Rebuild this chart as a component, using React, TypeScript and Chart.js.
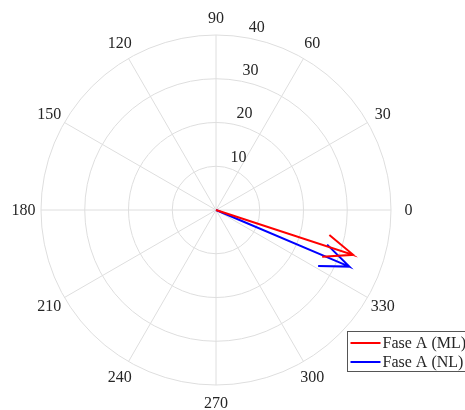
import React, { useEffect, useRef } from "react";
import { Chart, registerables } from "chart.js";

Chart.register(...registerables);

// ---- data ----
const seriesLabels = ["Fase A (ML)", "Fase A (NL)"];
const seriesColors = ["#ff0000", "#0000ff"];
const magnitudes = [33.0, 33.1];
const anglesDeg = [-18.1, -23.0];
const radialTicks = [10, 20, 30, 40];
const angleTicks = [0, 30, 60, 90, 120, 150, 180, 210, 240, 270, 300, 330];
const rMax = 40;

const FONT = '16px "Liberation Serif", "Times New Roman", serif';
const GRID = "#dedede";
const TEXT = "#262626";

// MATLAB compass arrow: 0, z, 0.8z+0.08iz, z, 0.8z-0.08iz
function arrowPoints(mag: number, deg: number) {
  const a = (deg * Math.PI) / 180;
  const zx = mag * Math.cos(a);
  const zy = mag * Math.sin(a);
  return [
    { x: 0, y: 0 },
    { x: zx, y: zy },
    { x: 0.8 * zx - 0.08 * zy, y: 0.8 * zy + 0.08 * zx },
    { x: zx, y: zy },
    { x: 0.8 * zx + 0.08 * zy, y: 0.8 * zy - 0.08 * zx },
  ];
}

const polarGrid = {
  id: "polarGrid",
  beforeDatasetsDraw(chart: any) {
    const { ctx, scales } = chart;
    const xs = scales.x;
    const ys = scales.y;
    const cx = xs.getPixelForValue(0);
    const cy = ys.getPixelForValue(0);
    const k = (xs.getPixelForValue(rMax) - cx) / rMax;
    ctx.save();
    ctx.strokeStyle = GRID;
    ctx.lineWidth = 1;
    // spokes
    for (const t of angleTicks) {
      if (t >= 180) continue;
      const a = (t * Math.PI) / 180;
      ctx.beginPath();
      ctx.moveTo(xs.getPixelForValue(-rMax * Math.cos(a)), ys.getPixelForValue(-rMax * Math.sin(a)));
      ctx.lineTo(xs.getPixelForValue(rMax * Math.cos(a)), ys.getPixelForValue(rMax * Math.sin(a)));
      ctx.stroke();
    }
    // rings
    for (const r of radialTicks) {
      ctx.beginPath();
      ctx.arc(cx, cy, r * k, 0, Math.PI * 2);
      ctx.stroke();
    }
    // angle labels
    ctx.fillStyle = TEXT;
    ctx.font = FONT;
    ctx.textAlign = "center";
    ctx.textBaseline = "middle";
    for (const t of angleTicks) {
      const a = (t * Math.PI) / 180;
      ctx.fillText(
        String(t),
        xs.getPixelForValue(1.1 * rMax * Math.cos(a)),
        ys.getPixelForValue(1.1 * rMax * Math.sin(a)) + 1
      );
    }
    // radial labels at 82 degrees
    const a82 = (82 * Math.PI) / 180;
    ctx.textAlign = "left";
    ctx.textBaseline = "bottom";
    for (const r of radialTicks) {
      const rr = r + 10 / 20;
      ctx.fillText(
        "  " + r,
        xs.getPixelForValue(rr * Math.cos(a82)),
        ys.getPixelForValue(rr * Math.sin(a82)) + 1
      );
    }
    ctx.restore();
  },
  afterDraw(chart: any) {
    const { ctx } = chart;
    const bx = 347.5;
    const by = 331.5;
    const bw = 140;
    const bh = 40;
    ctx.save();
    ctx.fillStyle = "#ffffff";
    ctx.fillRect(bx, by, bw, bh);
    ctx.strokeStyle = "#555555";
    ctx.lineWidth = 1;
    ctx.strokeRect(bx, by, bw, bh);
    ctx.font = FONT;
    ctx.textAlign = "left";
    ctx.textBaseline = "middle";
    chart.data.datasets.forEach((ds: any, i: number) => {
      const y = by + 11.5 + i * 19;
      ctx.strokeStyle = ds.borderColor;
      ctx.lineWidth = 2;
      ctx.beginPath();
      ctx.moveTo(bx + 3, y);
      ctx.lineTo(bx + 33, y);
      ctx.stroke();
      ctx.fillStyle = TEXT;
      ctx.fillText(ds.label, bx + 35, y + 1);
    });
    ctx.restore();
  },
};

export default function App() {
  const ref = useRef<HTMLCanvasElement | null>(null);
  useEffect(() => {
    if (!ref.current) return;
    const chart = new Chart(ref.current, {
      type: "scatter",
      data: {
        datasets: seriesLabels.map((label, i) => ({
          label,
          data: arrowPoints(magnitudes[i], anglesDeg[i]),
          showLine: true,
          borderColor: seriesColors[i],
          backgroundColor: seriesColors[i],
          borderWidth: 2,
          pointRadius: 0,
          pointHoverRadius: 0,
          fill: false,
          tension: 0,
        })),
      },
      options: {
        animation: false,
        responsive: false,
        devicePixelRatio: 1,
        layout: { padding: { left: 41, right: 74, top: 35, bottom: 25 } },
        scales: {
          x: { type: "linear", min: -rMax, max: rMax, display: false },
          y: { type: "linear", min: -rMax, max: rMax, display: false },
        },
        plugins: {
          legend: { display: false },
          tooltip: { enabled: false },
        },
      },
      plugins: [polarGrid],
    });
    return () => chart.destroy();
  }, []);
  return (
    <div style={{ position: "fixed", left: 0, top: 0, width: 465, height: 410, background: "#fff" }}>
      <canvas ref={ref} width={465} height={410} style={{ width: 465, height: 410, display: "block" }} />
    </div>
  );
}
